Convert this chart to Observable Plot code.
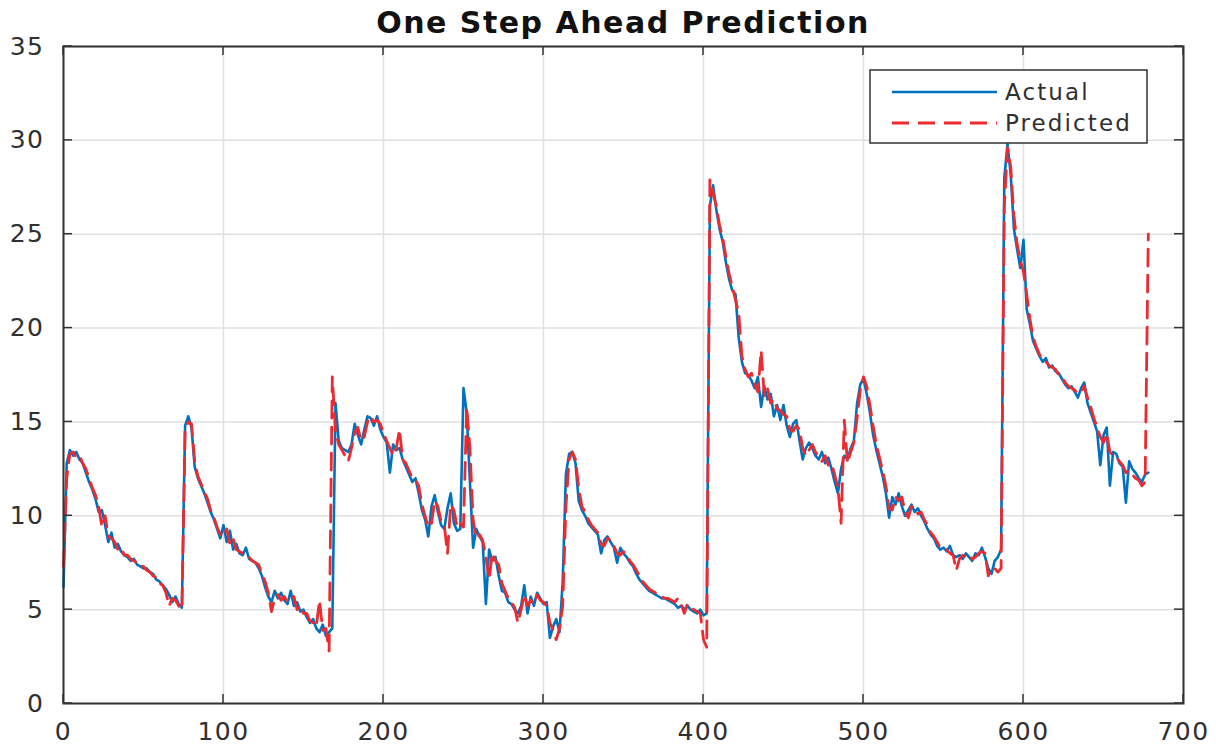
<!DOCTYPE html>
<html>
<head>
<meta charset="utf-8">
<script src="https://cdn.jsdelivr.net/npm/d3@7"></script>
<script src="https://cdn.jsdelivr.net/npm/@observablehq/plot@0.6"></script>
<style>
  html, body { margin: 0; padding: 0; background: #fff; }
  #wrap { position: relative; width: 1216px; height: 745px; overflow: hidden; }
  #title { position: absolute; top: 3px; left: 63px; width: 1120px; text-align: center;
           font-family: "DejaVu Sans", sans-serif; font-weight: bold; font-size: 30px;
           letter-spacing: 1.5px; line-height: 40px; color: #111; z-index: 2; }
  #chart { position: absolute; top: 0; left: 0; }
</style>
</head>
<body>
<div id="wrap">
  <div id="title">One Step Ahead Prediction</div>
  <div id="chart"></div>
</div>
<script>
// ---- data, one sample every 2 time steps ----
const sampleStep = 2;
const seriesNames = ["Actual", "Predicted"];
const xTicks = [0, 100, 200, 300, 400, 500, 600, 700];
const yTicks = [0, 5, 10, 15, 20, 25, 30, 35];

const actual = [
  6.2, 12.8, 13.5, 13.2, 13.4, 13.0, 12.8, 12.3, 11.8, 11.4,
  10.9, 10.2, 10.3, 9.5, 8.6, 9.1, 8.3, 8.5, 8.1, 7.9,
  7.8, 7.6, 7.7, 7.4, 7.3, 7.2, 7.2, 7.0, 6.9, 6.6,
  6.5, 6.3, 6.1, 5.8, 5.4, 5.7, 5.3, 5.1, 14.8, 15.3,
  14.7, 12.6, 12.0, 11.6, 11.2, 10.7, 10.2, 9.8, 9.3, 8.8,
  9.5, 8.6, 9.2, 8.2, 8.5, 8.0, 7.9, 8.3, 7.7, 7.6,
  7.5, 7.2, 6.8, 6.2, 5.7, 5.4, 6.0, 5.6, 5.9, 5.5,
  5.3, 6.0, 5.2, 5.4, 4.9, 5.0, 4.6, 4.3, 4.5, 4.0,
  3.8, 4.2, 3.6, 3.8, 4.0, 16.0, 14.0, 13.6, 13.5, 13.4,
  13.8, 14.9, 14.3, 13.8, 14.6, 15.3, 15.2, 14.8, 15.3, 14.6,
  14.2, 13.9, 12.3, 13.8, 13.5, 13.6, 13.0, 12.6, 12.2, 11.8,
  12.0, 11.2, 10.3, 9.8, 8.9, 10.5, 11.1, 10.2, 9.5, 9.3,
  10.4, 11.2, 9.6, 9.2, 9.3, 16.8, 15.5, 11.8, 8.3, 9.3,
  8.9, 8.6, 5.3, 8.2, 7.6, 7.8, 6.8, 6.0, 5.9, 5.4,
  5.3, 5.0, 4.8, 5.2, 6.3, 4.8, 5.7, 5.2, 5.9, 5.6,
  5.3, 5.4, 3.5, 4.1, 4.5, 3.8, 6.5, 12.2, 13.3, 13.4,
  12.8, 10.8, 10.3, 10.0, 9.6, 9.4, 9.2, 9.0, 8.0, 8.7,
  8.9, 8.6, 8.3, 7.5, 8.3, 8.0, 7.8, 7.5, 7.3, 6.9,
  6.6, 6.4, 6.2, 6.0, 5.9, 5.8, 5.7, 5.6, 5.6, 5.5,
  5.4, 5.3, 5.1, 5.2, 5.0, 5.2, 5.0, 4.9, 4.8, 5.0,
  4.7, 4.8, 26.5, 27.6, 26.3, 25.3, 24.6, 23.5, 22.6, 22.0,
  21.8, 19.5, 18.2, 17.6, 17.5, 17.2, 16.8, 17.4, 15.8, 16.9,
  16.2, 16.5, 15.3, 15.9, 15.1, 15.9, 14.8, 14.2, 14.9, 15.1,
  14.0, 13.0, 13.6, 13.9, 13.6, 13.2, 13.0, 13.4, 12.8, 13.1,
  12.5, 11.8, 11.2, 12.5, 13.2, 13.0, 13.6, 14.0, 16.0, 17.0,
  17.3, 16.5, 15.5, 14.3, 13.5, 12.8, 12.1, 11.2, 9.9, 11.0,
  10.6, 11.2, 10.5, 10.0, 10.3, 10.6, 10.2, 10.4, 10.0, 9.7,
  9.3, 9.0, 8.8, 8.4, 8.2, 8.3, 8.1, 8.4, 7.9, 7.8,
  7.9, 7.7, 8.0, 7.8, 7.6, 8.0, 7.9, 8.3, 7.8, 7.2,
  6.9, 7.6, 7.8, 8.2, 28.0, 29.8, 28.2, 25.3, 24.2, 23.2,
  24.7, 21.0, 20.2, 19.3, 18.9, 18.5, 18.2, 18.4, 17.9, 18.0,
  17.7, 17.6, 17.3, 17.0, 16.8, 16.9, 16.6, 16.3, 16.8, 17.1,
  16.0, 15.5, 15.0, 14.5, 12.7, 14.3, 14.7, 11.6, 13.4, 13.3,
  12.8, 12.6, 10.7, 12.9, 12.5, 12.3, 12.0, 11.8, 12.2, 12.3
];

const predicted = [
  7.3, 12.0, 13.3, 13.4, 13.1, 13.2, 12.8, 12.5, 12.0, 11.5,
  11.1, 10.5, 9.4, 10.0, 8.9, 8.8, 8.6, 8.2, 8.3, 7.9,
  7.9, 7.7, 7.6, 7.5, 7.3, 7.3, 7.1, 7.0, 6.8, 6.7,
  6.4, 6.3, 5.9, 5.2, 5.6, 5.5, 5.2, 5.0, 14.5, 15.0,
  14.9, 12.9, 12.1, 11.7, 11.3, 10.9, 10.3, 9.9, 9.4, 9.0,
  8.9, 9.3, 8.5, 8.8, 8.2, 8.1, 8.0, 7.9, 7.8, 7.6,
  7.5, 7.4, 6.9, 6.5, 5.9, 4.9, 5.6, 5.8, 5.5, 5.7,
  5.4, 5.5, 5.7, 5.0, 5.2, 4.8, 4.8, 4.4, 4.3, 4.1,
  5.5, 3.9, 4.0, 2.8, 17.4, 14.5, 13.8, 13.5, 13.2, 12.9,
  13.6, 14.4, 14.7, 14.0, 14.2, 15.0, 15.3, 15.0, 15.1, 14.9,
  14.4, 14.0, 13.6, 13.2, 13.6, 14.6, 13.0, 12.8, 12.4, 12.0,
  11.9, 11.6, 10.6, 10.0, 9.4, 9.6, 10.8, 10.5, 9.7, 9.5,
  8.0, 10.6, 10.3, 9.4, 9.6, 9.4, 15.8, 13.6, 9.8, 8.8,
  9.0, 8.7, 7.8, 6.6, 8.0, 7.6, 7.4, 6.4, 6.0, 5.6,
  5.4, 5.1, 4.3, 5.0, 5.8, 5.2, 5.5, 5.3, 5.8, 5.5,
  5.4, 5.2, 4.3, 3.9, 3.4, 4.0, 5.2, 10.5, 13.0, 13.4,
  13.0, 11.5, 10.5, 10.2, 9.8, 9.5, 9.3, 9.1, 8.5, 8.4,
  8.8, 8.7, 8.4, 8.0, 7.9, 8.1, 7.9, 7.6, 7.4, 7.1,
  6.8, 6.5, 6.3, 6.1, 6.0, 5.9, 5.8, 5.7, 5.6, 5.6,
  5.5, 5.4, 5.6, 5.3, 4.8, 5.3, 5.1, 5.0, 4.9, 4.8,
  3.4, 3.0, 27.9, 27.2, 26.5, 25.5, 24.8, 23.8, 22.9, 22.2,
  21.5, 20.8, 18.5, 17.8, 17.4, 17.6, 17.0, 16.6, 18.8, 16.4,
  16.8, 16.0, 16.2, 15.7, 15.6, 15.4, 15.3, 14.6, 14.5, 14.8,
  14.6, 13.6, 13.2, 13.5, 13.8, 13.4, 13.1, 12.9, 13.2, 12.7,
  12.8, 12.2, 11.5, 9.6, 15.1, 12.8, 13.4, 13.9, 15.2, 16.7,
  17.4, 16.9, 15.9, 14.8, 13.8, 13.1, 12.4, 11.6, 10.4, 10.3,
  11.0, 10.8, 11.0, 10.2, 9.9, 10.5, 10.4, 10.1, 10.2, 9.8,
  9.5, 9.1, 8.9, 8.6, 8.3, 8.2, 8.2, 8.0, 7.9, 7.1,
  7.7, 7.9, 7.8, 7.9, 7.7, 7.8, 8.0, 8.1, 8.0, 6.8,
  7.2, 7.2, 7.0, 7.2, 26.5, 29.6, 28.6, 26.0, 24.5, 23.6,
  23.0, 21.8, 20.5, 19.5, 19.0, 18.6, 18.3, 18.2, 18.0, 17.9,
  17.8, 17.5, 17.4, 17.1, 16.9, 16.8, 16.7, 16.5, 16.6, 16.9,
  16.3, 15.8, 15.2, 14.7, 14.2, 13.9, 14.4, 13.4, 13.2, 13.1,
  12.9, 12.7, 12.3, 12.4, 12.2, 12.0, 11.9, 11.6, 11.8, 25.0
];

// ---- styles ----
const blue = "#0072BD";
const red = "#ec2a2f";
const ink = "#303030";
const dash = "17,9";

const rows = actual.map((v, i) => ({t: i * sampleStep, actual: v, predicted: predicted[i]}));

const chart = Plot.plot({
  width: 1216,
  height: 745,
  marginTop: 46,
  marginBottom: 42,
  marginLeft: 63,
  marginRight: 33,
  style: {fontFamily: "DejaVu Sans, sans-serif", fontSize: "25px", color: ink, background: "white", letterSpacing: "1.5px"},
  x: {domain: [0, 700], label: null},
  y: {domain: [0, 35], label: null},
  marks: [
    Plot.gridX(xTicks, {stroke: "#e0e0e0", strokeOpacity: 1, strokeWidth: 1.5}),
    Plot.gridY(yTicks, {stroke: "#e0e0e0", strokeOpacity: 1, strokeWidth: 1.5}),
    Plot.line(rows, {x: "t", y: "actual", stroke: blue, strokeWidth: 2.6}),
    Plot.line(rows, {x: "t", y: "predicted", stroke: red, strokeWidth: 2.8, strokeDasharray: dash}),
    Plot.frame({stroke: "#333", strokeWidth: 2}),
    Plot.axisX(xTicks, {tickSize: 0, tickPadding: 19, fill: ink, label: null}),
    Plot.axisY(yTicks, {tickSize: 0, tickPadding: 19, fill: ink, label: null})
  ]
});
document.getElementById("chart").appendChild(chart);

// inward tick marks on all four sides (MATLAB style), positioned by the plot's scales
const sx = chart.scale("x"), sy = chart.scale("y");
const svg = d3.select(chart);
const [x0, x1] = sx.range, [y0, y1] = sy.range; // y0 bottom, y1 top
const tl = 9;
const tg = svg.append("g").attr("stroke", "#333").attr("stroke-width", 1.5);
xTicks.forEach(t => {
  const px = sx.apply(t);
  tg.append("line").attr("x1", px).attr("x2", px).attr("y1", y0).attr("y2", y0 - tl);
  tg.append("line").attr("x1", px).attr("x2", px).attr("y1", y1).attr("y2", y1 + tl);
});
yTicks.forEach(v => {
  const py = sy.apply(v);
  tg.append("line").attr("x1", x0).attr("x2", x0 + tl).attr("y1", py).attr("y2", py);
  tg.append("line").attr("x1", x1).attr("x2", x1 - tl).attr("y1", py).attr("y2", py);
});

// legend box (north-east, inside the axes)
const lg = svg.append("g").attr("font-family", "DejaVu Sans, sans-serif").attr("font-size", 23)
  .attr("text-anchor", "start").style("letter-spacing", "2.1px");
const lx = x1 - 36, lw = 277, ly = y1 + 24, lh = 73;
lg.append("rect").attr("x", lx - lw).attr("y", ly).attr("width", lw).attr("height", lh)
  .attr("fill", "white").attr("stroke", "#333").attr("stroke-width", 1.5);
const legendColors = [blue, red];
seriesNames.forEach((name, i) => {
  const cy = ly + 22 + i * 31;
  const line = lg.append("line").attr("x1", lx - lw + 22).attr("x2", lx - lw + 127)
    .attr("y1", cy).attr("y2", cy).attr("stroke", legendColors[i])
    .attr("stroke-width", i ? 2.8 : 2.6);
  if (i) line.attr("stroke-dasharray", dash);
  lg.append("text").attr("x", lx - lw + 135).attr("y", cy).attr("dy", "0.36em")
    .attr("text-anchor", "start").attr("fill", ink).text(name);
});
</script>
</body>
</html>
